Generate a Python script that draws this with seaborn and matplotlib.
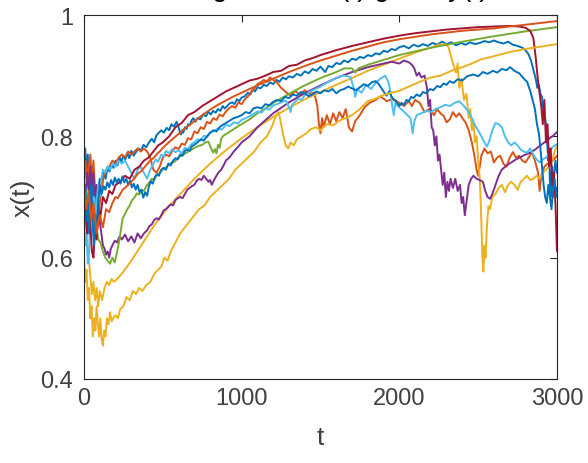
import matplotlib
matplotlib.use("Agg")
import matplotlib.pyplot as plt
import seaborn as sns
import pandas as pd

# ---- data: (t, x(t)) pairs per trajectory ----
blue_a = [(0,0.75),(8,0.78),(16,0.73),(24,0.77),(32,0.70),(40,0.74),(48,0.68),(56,0.72),(64,0.66),(72,0.70),
          (80,0.67),(90,0.71),(100,0.73),(112,0.715),(125,0.74),(137,0.73),(150,0.75),(162,0.742),(175,0.755),
          (187,0.748),(200,0.76),(212,0.752),(225,0.766),(237,0.758),(250,0.768),(262,0.762),(275,0.772),
          (287,0.764),(300,0.776),(315,0.768),(330,0.774),(345,0.78),(360,0.776),(377,0.786),(395,0.782),
          (412,0.79),(430,0.796),(445,0.79),(460,0.802),(475,0.806),(490,0.81),(507,0.806),(524,0.814),(540,0.81),
          (555,0.82),(570,0.816),(587,0.824),(600,0.815),(607,0.808),(615,0.803),(622,0.81),(630,0.806),
          (640,0.815),(650,0.812),(660,0.82),(670,0.818),(682,0.826),(693,0.83),(706,0.824),(720,0.83),
          (738,0.828),(756,0.836),(773,0.833),(790,0.84),(805,0.836),(818,0.842),(835,0.839),(850,0.845),
          (865,0.842),(880,0.85),(892,0.846),(905,0.849),(922,0.854),(940,0.856),(955,0.853),(970,0.861),
          (985,0.858),(1000,0.864),(1020,0.866),(1040,0.872),(1055,0.869),(1070,0.877),(1085,0.874),(1100,0.881),
          (1120,0.879),(1140,0.885),(1160,0.883),(1180,0.889),(1200,0.886),(1220,0.893),(1240,0.89),(1260,0.897),
          (1280,0.894),(1300,0.899),(1325,0.897),(1350,0.903),(1375,0.90),(1400,0.907),(1425,0.904),(1450,0.911),
          (1475,0.908),(1500,0.915),(1515,0.91),(1530,0.906),(1550,0.916),(1575,0.914),(1600,0.921),(1625,0.919),
          (1650,0.925),(1675,0.922),(1700,0.928),(1725,0.926),(1750,0.931),(1775,0.929),(1800,0.934),(1825,0.932),
          (1850,0.937),(1875,0.935),(1900,0.941),(1925,0.939),(1950,0.944),(1975,0.942),(2000,0.947),
          (2030,0.949),(2060,0.945),(2090,0.951),(2120,0.948),(2150,0.952),(2180,0.949),(2210,0.954),(2240,0.951),
          (2270,0.956),(2300,0.952),(2330,0.955),(2360,0.95),(2390,0.954),(2420,0.951),(2450,0.955),(2480,0.952),
          (2510,0.954),(2540,0.957),(2570,0.955),(2600,0.958),(2630,0.955),(2660,0.953),(2690,0.956),(2720,0.951),
          (2750,0.949),(2780,0.946),(2800,0.942),(2820,0.935),(2835,0.925),(2850,0.91),(2865,0.895),(2875,0.88),
          (2885,0.885),(2895,0.87),(2905,0.865),(2915,0.84),(2925,0.83),(2935,0.80),(2945,0.76),(2950,0.78),
          (2955,0.72),(2960,0.70),(2965,0.74),(2970,0.75),(2975,0.70),(2980,0.73),(2990,0.76),(3000,0.74)]

orange_a = [(0,0.74),(10,0.76),(20,0.72),(30,0.75),(40,0.77),(50,0.73),(60,0.76),(70,0.71),(80,0.68),(90,0.66),
            (100,0.69),(110,0.71),(125,0.735),(140,0.745),(160,0.75),(180,0.76),(200,0.755),(220,0.765),(240,0.77),
            (260,0.765),(280,0.775),(300,0.77),(320,0.775),(340,0.78),(360,0.775),(380,0.78),(400,0.775),(420,0.765),
            (440,0.745),(460,0.74),(480,0.75),(500,0.765),(520,0.77),(540,0.767),(560,0.776),(580,0.782),(600,0.779),
            (620,0.788),(640,0.786),(660,0.797),(680,0.795),(700,0.808),(720,0.805),(740,0.815),(760,0.812),
            (780,0.824),(800,0.821),(820,0.83),(840,0.827),(860,0.836),(880,0.833),(900,0.841),(920,0.846),
            (940,0.85),(960,0.847),(980,0.856),(1000,0.853),(1020,0.861),(1040,0.866),(1060,0.873),(1080,0.879),
            (1100,0.886),(1120,0.889),(1140,0.893),(1160,0.89),(1180,0.897),(1200,0.893),(1220,0.89),(1250,0.88),
            (1280,0.873),(1310,0.867),(1340,0.875),(1370,0.868),(1400,0.876),(1430,0.87),(1460,0.872),(1480,0.85),
            (1490,0.82),(1500,0.805),(1510,0.83),(1520,0.815),(1540,0.835),(1560,0.82),(1580,0.838),(1600,0.825),
            (1620,0.84),(1640,0.83),(1660,0.845),(1680,0.815),(1700,0.808),(1720,0.825),(1750,0.835),(1780,0.848),
            (1810,0.855),(1850,0.86),(1880,0.866),(1920,0.858),(1960,0.862),(2000,0.855),(2030,0.85),(2060,0.858),
            (2080,0.85),(2100,0.86),(2130,0.855),(2160,0.84),(2190,0.845),(2220,0.835),(2240,0.845),(2260,0.838),
            (2280,0.834),(2300,0.823),(2320,0.828),(2340,0.84),(2360,0.832),(2380,0.838),(2400,0.83),(2420,0.823),
            (2440,0.81),(2460,0.79),(2475,0.77),(2490,0.745),(2500,0.735),(2510,0.75),(2520,0.768),(2540,0.78),
            (2560,0.772),(2580,0.775),(2600,0.757),(2620,0.765),(2640,0.768),(2660,0.755),(2680,0.75),(2700,0.765),
            (2720,0.774),(2740,0.765),(2760,0.768),(2780,0.76),(2800,0.757),(2820,0.765),(2840,0.774),(2860,0.76),
            (2880,0.74),(2890,0.71),(2900,0.735),(2920,0.75),(2940,0.755),(2960,0.757),(2980,0.762),(3000,0.768)]

yellow_a = [(0,0.71),(10,0.68),(20,0.62),(30,0.60),(40,0.57),(50,0.54),(60,0.56),(70,0.53),(80,0.55),(90,0.52),
            (100,0.545),(115,0.53),(130,0.55),(145,0.56),(160,0.555),(175,0.565),(190,0.56),(210,0.565),(245,0.575),
            (300,0.595),(350,0.615),(400,0.635),(450,0.655),(500,0.672),(550,0.688),(600,0.702),(700,0.73),
            (800,0.755),(900,0.777),(1000,0.797),(1100,0.815),(1200,0.832),(1300,0.847),(1400,0.861),(1500,0.873),
            (1600,0.885),(1700,0.896),(1800,0.908),(1900,0.918),(2000,0.928),(2100,0.938),(2200,0.946),(2250,0.951),
            (2290,0.952),(2310,0.948),(2325,0.935),(2340,0.92),(2360,0.905),(2370,0.92),(2380,0.88),(2395,0.895),
            (2410,0.86),(2425,0.87),(2440,0.83),(2450,0.845),(2460,0.81),(2470,0.825),(2480,0.79),(2490,0.80),
            (2500,0.76),(2510,0.73),(2515,0.70),(2520,0.66),(2527,0.60),(2533,0.577),(2540,0.62),(2547,0.60),
            (2555,0.65),(2565,0.685),(2575,0.68),(2590,0.70),(2610,0.705),(2630,0.715),(2650,0.72),(2670,0.708),
            (2690,0.72),(2710,0.725),(2730,0.72),(2750,0.712),(2770,0.725),(2790,0.73),(2810,0.735),(2830,0.728),
            (2850,0.73),(2870,0.735),(2890,0.73),(2910,0.74),(2930,0.745),(2950,0.75),(2970,0.76),(2985,0.775),
            (3000,0.785)]

purple = [(0,0.72),(10,0.70),(20,0.74),(30,0.71),(40,0.75),(50,0.72),(60,0.74),(70,0.70),(80,0.72),(90,0.68),
          (100,0.66),(110,0.64),(120,0.62),(130,0.615),(140,0.605),(150,0.61),(160,0.60),(170,0.615),(180,0.62),
          (195,0.628),(210,0.625),(225,0.635),(240,0.63),(260,0.638),(280,0.627),(300,0.635),(320,0.625),
          (340,0.64),(360,0.632),(380,0.64),(400,0.645),(415,0.652),(430,0.655),(445,0.662),(460,0.665),(475,0.663),
          (490,0.67),(505,0.678),(520,0.68),(535,0.684),(550,0.688),(565,0.686),(580,0.695),(595,0.698),(610,0.70),
          (625,0.698),(640,0.705),(655,0.712),(670,0.715),(685,0.718),(700,0.72),(715,0.727),(730,0.73),(745,0.728),
          (760,0.735),(775,0.73),(790,0.725),(800,0.728),(810,0.72),(825,0.728),(840,0.735),(855,0.741),(870,0.745),
          (885,0.752),(900,0.76),(925,0.766),(950,0.775),(975,0.782),(1000,0.79),(1050,0.80),(1100,0.815),
          (1200,0.838),(1300,0.856),(1400,0.871),(1500,0.884),(1600,0.896),(1700,0.906),(1800,0.914),(1900,0.92),
          (1950,0.923),(2000,0.92),(2030,0.925),(2060,0.922),(2080,0.918),(2095,0.912),(2110,0.90),(2125,0.905),
          (2140,0.897),(2160,0.90),(2175,0.88),(2185,0.85),(2195,0.86),(2205,0.815),(2215,0.81),(2225,0.785),
          (2235,0.80),(2245,0.76),(2255,0.77),(2265,0.745),(2275,0.72),(2285,0.74),(2295,0.70),(2305,0.725),
          (2315,0.71),(2325,0.73),(2340,0.715),(2355,0.73),(2370,0.71),(2385,0.72),(2395,0.69),(2405,0.70),
          (2415,0.67),(2425,0.69),(2440,0.72),(2455,0.73),(2470,0.735),(2490,0.73),(2510,0.728),(2530,0.725),
          (2545,0.71),(2560,0.70),(2575,0.697),(2590,0.705),(2610,0.72),(2630,0.735),(2650,0.745),(2680,0.752),
          (2710,0.757),(2740,0.762),(2770,0.766),(2800,0.77),(2830,0.773),(2860,0.778),(2890,0.784),(2920,0.79),
          (2950,0.796),(2980,0.802),(3000,0.807)]

green = [(0,0.69),(15,0.71),(30,0.67),(45,0.69),(60,0.65),(75,0.66),(90,0.63),(105,0.625),(120,0.61),(135,0.60),
         (150,0.595),(165,0.59),(180,0.60),(195,0.592),(210,0.61),(225,0.63),(245,0.665),(260,0.672),(275,0.68),
         (290,0.686),(305,0.695),(320,0.699),(335,0.706),(350,0.704),(365,0.712),(380,0.71),(400,0.72),(415,0.724),
         (430,0.73),(445,0.728),(460,0.736),(480,0.74),(500,0.745),(525,0.75),(550,0.756),(575,0.758),(600,0.766),
         (625,0.769),(650,0.773),(675,0.777),(700,0.781),(725,0.784),(750,0.786),(770,0.79),(790,0.791),
         (800,0.784),(810,0.778),(820,0.773),(830,0.779),(840,0.772),(850,0.786),(860,0.781),(870,0.796),
         (880,0.80),(895,0.803),(910,0.805),(925,0.808),(940,0.81),(955,0.813),(970,0.815),(985,0.818),
         (1000,0.82),(1050,0.828),(1100,0.838),(1150,0.846),(1200,0.855),(1300,0.87),(1400,0.884),(1500,0.896),
         (1600,0.906),(1650,0.912),(1700,0.912),(1720,0.905),(1740,0.912),(1800,0.918),(1900,0.926),(2000,0.934),
         (2100,0.94),(2200,0.946),(2400,0.956),(2600,0.965),(2800,0.973),(3000,0.98)]

light_blue = [(0,0.66),(8,0.62),(16,0.64),(24,0.59),(32,0.61),(40,0.67),(48,0.71),(56,0.68),(64,0.70),(72,0.66),
              (80,0.69),(90,0.72),(100,0.70),(110,0.73),(120,0.745),(135,0.74),(150,0.75),(165,0.745),(180,0.755),
              (200,0.75),(220,0.76),(240,0.755),(260,0.76),(280,0.75),(300,0.74),(320,0.73),(340,0.745),(360,0.75),
              (380,0.74),(400,0.73),(420,0.745),(440,0.755),(455,0.762),(470,0.758),(490,0.77),(505,0.767),
              (520,0.776),(540,0.772),(560,0.779),(580,0.774),(600,0.777),(620,0.772),(640,0.781),(660,0.779),
              (680,0.787),(700,0.79),(720,0.795),(740,0.793),(760,0.801),(780,0.799),(800,0.806),(825,0.809),
              (850,0.813),(875,0.811),(900,0.819),(925,0.817),(950,0.823),(975,0.821),(1000,0.827),(1025,0.83),
              (1050,0.833),(1075,0.837),(1100,0.841),(1125,0.839),(1150,0.846),(1175,0.844),(1200,0.851),
              (1225,0.853),(1250,0.856),(1280,0.859),(1300,0.848),(1310,0.84),(1320,0.852),(1340,0.857),(1360,0.862),
              (1380,0.86),(1400,0.868),(1425,0.872),(1450,0.876),(1475,0.879),(1500,0.882),(1525,0.886),(1550,0.89),
              (1575,0.893),(1600,0.896),(1625,0.899),(1650,0.90),(1690,0.898),(1710,0.88),(1720,0.865),(1735,0.878),
              (1760,0.872),(1790,0.885),(1820,0.878),(1850,0.888),(1880,0.895),(1910,0.90),(1930,0.89),(1945,0.872),
              (1955,0.85),(1965,0.835),(1975,0.855),(1990,0.85),(2010,0.845),(2040,0.838),(2070,0.83),(2085,0.805),
              (2095,0.825),(2110,0.835),(2140,0.838),(2170,0.842),(2200,0.84),(2230,0.845),(2260,0.848),(2290,0.852),
              (2320,0.85),(2350,0.855),(2380,0.858),(2410,0.85),(2440,0.84),(2460,0.83),(2480,0.818),(2500,0.81),
              (2520,0.80),(2540,0.79),(2555,0.783),(2570,0.792),(2590,0.81),(2610,0.822),(2630,0.82),(2650,0.815),
              (2670,0.80),(2690,0.79),(2710,0.785),(2730,0.79),(2750,0.785),(2770,0.778),(2790,0.775),(2810,0.773),
              (2830,0.78),(2850,0.77),(2870,0.762),(2890,0.757),(2910,0.762),(2930,0.765),(2950,0.772),(2970,0.782),
              (2985,0.785),(3000,0.787)]

dark_red = [(0,0.70),(10,0.67),(20,0.64),(30,0.69),(40,0.66),(50,0.61),(60,0.60),(70,0.65),(80,0.63),(90,0.68),
            (100,0.66),(120,0.70),(140,0.69),(160,0.71),(180,0.705),(200,0.72),(230,0.725),(260,0.735),(290,0.73),
            (320,0.745),(350,0.75),(380,0.76),(410,0.765),(440,0.775),(470,0.785),(500,0.79),(540,0.80),(580,0.815),
            (620,0.822),(660,0.835),(700,0.84),(750,0.85),(800,0.858),(850,0.866),(900,0.874),(950,0.88),
            (1000,0.886),(1050,0.892),(1100,0.895),(1150,0.90),(1200,0.906),(1250,0.908),(1300,0.916),(1350,0.918),
            (1400,0.925),(1450,0.929),(1500,0.934),(1600,0.942),(1700,0.949),(1800,0.955),(1900,0.961),(2000,0.966),
            (2100,0.970),(2200,0.973),(2300,0.976),(2400,0.978),(2500,0.980),(2600,0.981),(2700,0.982),(2760,0.981),
            (2800,0.979),(2830,0.974),(2850,0.962),(2865,0.93),(2880,0.89),(2890,0.87),(2900,0.85),(2910,0.82),
            (2920,0.86),(2930,0.79),(2940,0.82),(2950,0.75),(2960,0.78),(2970,0.72),(2980,0.74),(2990,0.69),
            (3000,0.61)]

blue_b = [(0,0.68),(8,0.72),(16,0.66),(24,0.70),(32,0.64),(40,0.69),(48,0.71),(56,0.65),(64,0.62),(72,0.67),
          (80,0.64),(90,0.69),(100,0.72),(112,0.705),(124,0.718),(136,0.712),(148,0.724),(160,0.716),(172,0.728),
          (184,0.72),(196,0.732),(208,0.724),(220,0.73),(232,0.722),(244,0.734),(256,0.724),(268,0.73),(280,0.72),
          (292,0.727),(304,0.716),(316,0.722),(328,0.712),(340,0.72),(352,0.708),(364,0.712),(376,0.699),
          (388,0.708),(400,0.702),(412,0.718),(424,0.726),(436,0.722),(448,0.732),(460,0.737),(475,0.735),
          (490,0.745),(505,0.748),(520,0.745),(535,0.755),(550,0.752),(565,0.76),(580,0.764),(595,0.762),
          (610,0.77),(625,0.768),(640,0.776),(655,0.778),(670,0.776),(685,0.784),(700,0.786),(720,0.79),
          (740,0.795),(760,0.793),(780,0.80),(800,0.806),(820,0.81),(840,0.808),(860,0.815),(880,0.819),
          (900,0.822),(925,0.826),(950,0.83),(975,0.832),(1000,0.835),(1025,0.84),(1050,0.838),(1075,0.846),
          (1100,0.848),(1125,0.846),(1150,0.853),(1175,0.851),(1200,0.857),(1225,0.86),(1250,0.858),(1275,0.865),
          (1300,0.863),(1325,0.869),(1350,0.867),(1375,0.873),(1400,0.871),(1425,0.866),(1450,0.869),(1475,0.874),
          (1500,0.871),(1525,0.876),(1550,0.874),(1575,0.878),(1600,0.871),(1625,0.876),(1650,0.878),(1675,0.882),
          (1700,0.879),(1725,0.876),(1750,0.881),(1775,0.886),(1800,0.883),(1825,0.889),(1850,0.891),(1870,0.886),
          (1890,0.878),(1905,0.872),(1920,0.867),(1935,0.874),(1950,0.866),(1965,0.86),(1980,0.857),(2000,0.85),
          (2015,0.855),(2030,0.852),(2045,0.86),(2060,0.858),(2075,0.865),(2090,0.863),(2110,0.869),(2130,0.866),
          (2150,0.873),(2170,0.871),(2195,0.878),(2216,0.876),(2240,0.883),(2260,0.881),(2280,0.887),(2300,0.885),
          (2320,0.891),(2343,0.888),(2370,0.894),(2400,0.892),(2430,0.899),(2470,0.902),(2500,0.899),(2530,0.906),
          (2560,0.903),(2594,0.908),(2620,0.905),(2650,0.911),(2680,0.909),(2702,0.914),(2730,0.908),(2760,0.904),
          (2790,0.895),(2810,0.89),(2830,0.875),(2845,0.86),(2860,0.845),(2873,0.82),(2885,0.805),(2895,0.78),
          (2905,0.75),(2915,0.72),(2925,0.70),(2935,0.69),(2945,0.72),(2955,0.70),(2965,0.68),(2975,0.71),
          (2985,0.73),(2995,0.70),(3000,0.715)]

orange_b = [(0,0.72),(15,0.68),(30,0.71),(45,0.66),(60,0.69),(80,0.64),(100,0.67),(120,0.65),(140,0.68),(160,0.675),
            (180,0.69),(200,0.70),(215,0.698),(230,0.705),(245,0.712),(260,0.715),(280,0.72),(300,0.725),(320,0.731),
            (340,0.738),(360,0.742),(380,0.748),(400,0.754),(420,0.76),(440,0.764),(460,0.77),(480,0.775),(500,0.781),
            (550,0.793),(600,0.804),(650,0.815),(700,0.825),(750,0.835),(800,0.844),(850,0.852),
            (900,0.859),(950,0.866),(1000,0.872),(1100,0.884),(1200,0.895),(1300,0.906),(1400,0.916),(1500,0.925),
            (1600,0.933),(1700,0.941),(1800,0.948),(1900,0.955),(2000,0.96),(2100,0.964),(2200,0.968),(2300,0.971),
            (2400,0.974),(2500,0.976),(2600,0.978),(2700,0.981),(2800,0.984),(2900,0.987),(3000,0.99)]

yellow_b = [(0,0.60),(8,0.56),(16,0.58),(24,0.53),(32,0.55),(40,0.50),(48,0.52),(56,0.47),(64,0.50),(72,0.48),
            (80,0.52),(88,0.49),(96,0.47),(104,0.50),(112,0.465),(120,0.455),(128,0.48),(136,0.47),(145,0.50),
            (155,0.49),(165,0.51),(175,0.495),(185,0.50),(200,0.505),(215,0.50),(230,0.515),(250,0.52),(270,0.535),
            (290,0.53),(310,0.545),(330,0.54),(350,0.55),(370,0.545),(395,0.555),(420,0.56),(450,0.575),(470,0.58),
            (490,0.585),(510,0.60),(530,0.595),(550,0.61),(580,0.625),(610,0.64),(640,0.65),(670,0.66),(700,0.67),
            (730,0.68),(760,0.685),(800,0.70),(840,0.71),(880,0.72),(920,0.73),(960,0.745),(1000,0.755),
            (1040,0.765),(1080,0.775),(1120,0.79),(1160,0.80),(1190,0.815),(1220,0.835),(1235,0.84),(1250,0.82),
            (1265,0.80),(1280,0.785),(1295,0.78),(1310,0.79),(1330,0.785),(1350,0.795),(1380,0.80),(1410,0.805),
            (1440,0.812),(1470,0.815),(1500,0.81),(1540,0.82),(1580,0.818),(1620,0.826),(1660,0.83),(1700,0.835),
            (1750,0.845),(1800,0.858),(1850,0.862),(1900,0.868),(1950,0.872),(2000,0.875),(2060,0.882),(2130,0.89),
            (2200,0.897),(2260,0.90),(2330,0.908),(2400,0.914),(2460,0.92),(2520,0.927),(2600,0.932),(2700,0.939),
            (2800,0.944),(2900,0.948),(3000,0.952)]

series_names = ["blue_a", "orange_a", "yellow_a", "purple", "green", "light_blue",
                "dark_red", "blue_b", "orange_b", "yellow_b"]
series_data = [blue_a, orange_a, yellow_a, purple, green, light_blue,
               dark_red, blue_b, orange_b, yellow_b]
series_colors = ["#0072BD", "#D95319", "#EDB120", "#7E2F8E", "#77AC30", "#4DBEEE",
                 "#A2142F", "#0072BD", "#D95319", "#EDB120"]

x_ticks = [0, 1000, 2000, 3000]
x_tick_labels = ["0", "1000", "2000", "3000"]
y_ticks = [0.4, 0.6, 0.8, 1.0]
y_tick_labels = ["0.4", "0.6", "0.8", "1"]

rows = []
for name, pts in zip(series_names, series_data):
    for t, x in pts:
        rows.append((name, t, x))
df = pd.DataFrame(rows, columns=["series", "t", "x"])
palette = dict(zip(series_names, series_colors))

sns.set_theme(style="white")
plt.rcParams["font.family"] = ["Liberation Sans", "DejaVu Sans"]

W, H = 588, 464
fig = plt.figure(figsize=(W / 100, H / 100), dpi=100)
ax = fig.add_axes([84 / W, 1 - 380 / H, (557 - 84) / W, (380 - 16) / H])

sns.lineplot(data=df, x="t", y="x", hue="series", hue_order=series_names,
             palette=palette, estimator=None, sort=False, linewidth=1.4,
             legend=False, ax=ax)

ax.set_xlim(0, 3000)
ax.set_ylim(0.4, 1.0)
ax.set_xticks(x_ticks)
ax.set_xticklabels(x_tick_labels)
ax.set_yticks(y_ticks)
ax.set_yticklabels(y_tick_labels)

axis_col = "#262626"
text_col = "#404040"
for s in ax.spines.values():
    s.set_visible(True)
    s.set_color(axis_col)
    s.set_linewidth(0.8)
ax.tick_params(direction="in", length=5, width=0.8, color=axis_col,
               top=True, right=True, labelsize=17, labelcolor=text_col)
ax.tick_params(axis="x", pad=6)
ax.tick_params(axis="y", pad=8)
ax.set_xlabel("t", fontsize=19, color=text_col, labelpad=11)
ax.set_ylabel("x(t)", fontsize=19, color=text_col, labelpad=4)

fig.text(0.52, 1.0 + 4 / H, "Convergence of x(t) given y(t)", ha="center", va="baseline",
         fontsize=20, color="#000000")

fig.savefig("out.png", dpi=100)
